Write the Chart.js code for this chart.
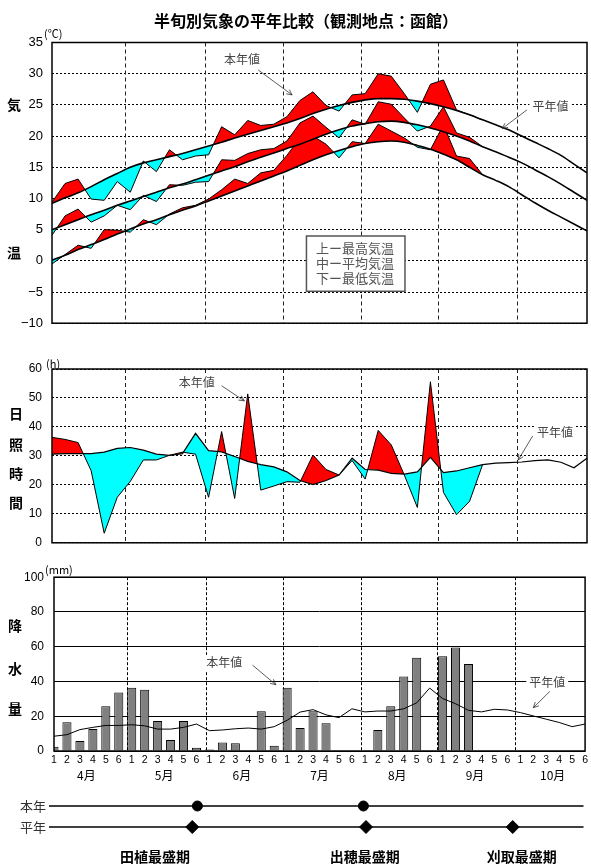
<!DOCTYPE html>
<html lang="ja">
<head>
<meta charset="utf-8">
<title>半旬別気象の平年比較（函館）</title>
<script src="https://cdn.jsdelivr.net/npm/chart.js@4.4.1/dist/chart.umd.min.js"></script>
<style>
  html, body { margin: 0; padding: 0; background: #fff; }
  #page { position: relative; width: 591px; height: 864px; overflow: hidden; background: #fff;
          font-family: "Noto Sans CJK JP", "Noto Sans", sans-serif; color: #000; }
  #page canvas { position: absolute; left: 0; }
  .lbl { position: absolute; transform: translate(-50%, -50%); white-space: nowrap; line-height: 1; }
  .ax { font-size: 14px; font-weight: bold; }
  .unit { font-size: 11px; transform: translate(0, -50%); }
</style>
</head>
<body>
<div id="page">
  <canvas id="temp"  width="591" height="340" style="top:0"></canvas>
  <canvas id="sun"   width="591" height="220" style="top:340px"></canvas>
  <canvas id="rain"  width="591" height="224" style="top:560px"></canvas>
  <canvas id="stage" width="591" height="80"  style="top:784px"></canvas>

  <div class="lbl" style="left:306px;top:20px;font-size:16px;font-weight:bold;">半旬別気象の平年比較（観測地点：函館）</div>

  <div class="lbl unit" style="left:44px;top:33px;">(℃)</div>
  <div class="lbl ax" style="left:14px;top:104px;">気</div>
  <div class="lbl ax" style="left:14px;top:252px;">温</div>

  <div class="lbl unit" style="left:46px;top:363px;">(h)</div>
  <div class="lbl ax" style="left:16px;top:413px;">日</div>
  <div class="lbl ax" style="left:16px;top:444px;">照</div>
  <div class="lbl ax" style="left:16px;top:473px;">時</div>
  <div class="lbl ax" style="left:16px;top:502px;">間</div>

  <div class="lbl unit" style="left:45px;top:569px;">(mm)</div>
  <div class="lbl ax" style="left:15px;top:625px;">降</div>
  <div class="lbl ax" style="left:15px;top:668px;">水</div>
  <div class="lbl ax" style="left:15px;top:708px;">量</div>
</div>

<script>
// ---- categories: 半旬 (1-6) for April through October ----
const months = ['4月', '5月', '6月', '7月', '8月', '9月', '10月'];
const pentadNames = ['1', '2', '3', '4', '5', '6'];
const pentadLabels = months.flatMap(() => pentadNames);

// ---- temperature (℃) ----
const tMaxNormal  = [9.2,10.1,10.9,11.9,13.0,14.0,15.0,15.7,16.2,16.7,17.2,17.8,18.4,19.0,19.7,20.3,20.9,21.5,22.1,22.8,23.6,
                     24.3,24.9,25.4,25.8,26.0,26.0,25.9,25.6,25.2,24.7,24.1,23.4,22.6,21.8,21.0,20.0,19.0,18.0,16.9,15.5,14.1];
const tMaxNow     = [9.4,12.4,13.1,9.9,9.7,12.7,11.0,16.0,14.3,17.8,16.2,16.8,17.0,21.5,20.2,22.5,21.7,21.9,23.1,25.7,27.1,
                     24.9,24.0,26.6,26.8,30.0,29.6,26.8,23.8,28.3,29.0,24.2,23.4,22.6];
const tMeanNormal = [5.0,5.8,6.6,7.4,8.1,8.9,9.6,10.3,11.0,11.7,12.3,13.0,13.7,14.4,15.1,15.9,16.6,17.3,18.0,18.7,19.5,
                     20.3,21.0,21.6,22.0,22.3,22.4,22.2,21.8,21.3,20.7,20.0,19.2,18.3,17.5,16.6,15.7,14.6,13.5,12.3,11.0,9.7];
const tMeanNow    = [4.1,7.2,8.3,6.2,7.2,8.9,8.2,10.5,9.5,12.2,12.1,12.6,12.7,16.2,16.1,17.2,17.8,18.0,19.2,22.1,23.2,
                     21.4,19.7,22.6,21.9,25.5,25.1,22.9,20.8,21.6,24.7,20.5,19.8,18.3];
const tMinNormal  = [0.1,0.9,1.8,2.6,3.4,4.3,5.1,5.9,6.6,7.4,8.1,8.8,9.6,10.4,11.2,12.0,12.8,13.6,14.4,15.3,16.2,
                     17.0,17.7,18.3,18.8,19.1,19.2,19.0,18.5,17.9,17.1,16.2,15.0,13.8,12.9,11.9,10.6,9.3,8.1,7.0,5.9,4.8];
const tMinNow     = [-0.5,1.0,2.5,2.0,5.0,4.9,4.6,6.6,5.8,7.5,8.5,8.9,9.9,11.4,13.1,12.4,14.1,14.5,16.9,19.7,20.0,
                     18.7,16.5,19.1,18.8,21.9,20.8,19.7,18.2,17.8,21.8,16.8,16.4,13.8];

// ---- sunshine duration (h) ----
const sunNormal = [30.6,30.8,30.8,30.8,31.3,32.6,32.9,32.0,30.6,30.2,30.8,37.8,31.8,31.4,29.8,28.1,27.0,26.2,24.5,21.5,20.1,
                   21.5,23.4,29.2,25.3,25.1,24.0,23.7,24.5,29.5,24.2,24.8,25.9,27.0,27.5,27.7,27.9,28.4,28.6,27.8,25.9,29.2];
const sunNow    = [36.4,35.7,34.6,24.9,3.3,15.7,21.2,28.6,28.6,30.2,31.3,30.6,15.7,38.4,15.3,51.4,18.2,19.6,21.1,20.9,30.3,
                   25.3,23.4,28.4,22.0,38.8,33.8,23.4,12.2,55.6,17.4,9.7,14.3,27.0];

// ---- precipitation (mm) ----
const rainNormal = [8.5,9.4,12.3,13.6,14.7,14.7,15.1,14.5,12.6,12.6,13.6,15.5,11.7,12.1,12.8,13.2,12.6,14.0,17.7,22.4,23.8,
                    20.8,19.2,24.3,22.5,23.0,23.0,24.3,27.7,36.2,30.2,27.2,23.4,22.5,24.0,23.6,22.1,20.2,18.3,16.4,14.0,15.5];
const rainNow    = [2.5,16.6,5.8,12.6,25.7,33.6,36.4,35.3,17.2,6.4,17.2,1.9,0.8,4.9,4.5,0,22.8,3.0,36.4,13.2,22.8,
                    16.0,0,0,0,12.1,25.7,42.8,53.6,0,54.5,59.6,50.0,0];

// ---- rice crop stages (position in 半旬 index) ----
const stageNames    = ['田植最盛期', '出穂最盛期', '刈取最盛期'];
const stageLabelAt  = [8.0, 24.3, 36.5];
const stageNowAt    = [11.3, 24.2];
const stageNormalAt = [10.9, 24.4, 35.8];

// month boundary positions (半旬 index units)
const monthEdges = [5.6, 11.7, 17.7, 23.7, 29.6, 35.6];

const RED = '#ff0000', CYAN = '#00ffff';
const NUM_FONT = "'Liberation Sans', Arial, sans-serif";
const JP_FONT = "'Noto Sans CJK JP', sans-serif";
Chart.defaults.font.family = NUM_FONT;
Chart.defaults.color = '#000';

// month dividers behind the data, plot frame on top of it
const framePlugin = {
  id: 'frame',
  beforeDatasetsDraw(chart, _args, o) {
    const { ctx, chartArea: a } = chart;
    const x = chart.scales.x;
    ctx.save();
    ctx.strokeStyle = o.dashColor || '#222';
    ctx.lineWidth = 1;
    ctx.setLineDash(o.dash || [4, 3]);
    (o.edges || []).forEach(v => {
      const px = Math.round(x.getPixelForValue(v)) + 0.5;
      ctx.beginPath(); ctx.moveTo(px, a.top); ctx.lineTo(px, a.bottom); ctx.stroke();
    });
    ctx.restore();
  },
  afterDatasetsDraw(chart, _args, o) {
    if (!o.border) return;
    const { ctx, chartArea: a } = chart;
    ctx.save();
    ctx.strokeStyle = '#000';
    ctx.lineWidth = 1.5;
    ctx.strokeRect(a.left, a.top, a.right - a.left, a.bottom - a.top);
    ctx.restore();
  }
};

function arrow(ctx, x1, y1, x2, y2) {
  ctx.beginPath(); ctx.moveTo(x1, y1); ctx.lineTo(x2, y2); ctx.stroke();
  const ang = Math.atan2(y2 - y1, x2 - x1), L = 6;
  ctx.beginPath();
  ctx.moveTo(x2 - L * Math.cos(ang - 0.45), y2 - L * Math.sin(ang - 0.45));
  ctx.lineTo(x2, y2);
  ctx.lineTo(x2 - L * Math.cos(ang + 0.45), y2 - L * Math.sin(ang + 0.45));
  ctx.stroke();
}

// callout labels, legend box and extra axis texts
const notesPlugin = {
  id: 'notes',
  afterDraw(chart, _args, o) {
    const { ctx, chartArea: a } = chart;
    const x = chart.scales.x, y = chart.scales.y;
    ctx.save();
    (o.items || []).forEach(n => {
      ctx.font = `12px ${JP_FONT}`;
      const px = x.getPixelForValue(n.at[0]), py = y.getPixelForValue(n.at[1]);
      const w = ctx.measureText(n.text).width;
      ctx.fillStyle = '#fff';
      ctx.fillRect(px - w / 2 - 3, py - 8, w + 6, 16);
      ctx.fillStyle = '#444';
      ctx.textAlign = 'center'; ctx.textBaseline = 'middle';
      ctx.fillText(n.text, px, py);
      ctx.strokeStyle = '#333'; ctx.lineWidth = 0.8;
      arrow(ctx, x.getPixelForValue(n.from[0]), y.getPixelForValue(n.from[1]),
                 x.getPixelForValue(n.to[0]), y.getPixelForValue(n.to[1]));
    });
    if (o.box) {
      const b = o.box;
      const x0 = x.getPixelForValue(b.from[0]), y0 = y.getPixelForValue(b.from[1]);
      const x1 = x.getPixelForValue(b.to[0]),   y1 = y.getPixelForValue(b.to[1]);
      ctx.fillStyle = '#fff'; ctx.fillRect(x0, y0, x1 - x0, y1 - y0);
      ctx.strokeStyle = '#555'; ctx.lineWidth = 1.5; ctx.strokeRect(x0, y0, x1 - x0, y1 - y0);
      ctx.font = `13px ${JP_FONT}`; ctx.fillStyle = '#555';
      ctx.textAlign = 'left'; ctx.textBaseline = 'middle';
      b.lines.forEach((t, k) => ctx.fillText(t, x.getPixelForValue(b.textAt), y.getPixelForValue(b.lineVals[k])));
    }
    if (o.months) {
      ctx.font = `12px ${JP_FONT}`; ctx.fillStyle = '#000';
      ctx.textAlign = 'center'; ctx.textBaseline = 'middle';
      o.months.forEach((m, k) => ctx.fillText(m, x.getPixelForValue(k * 6 + 2.5), a.bottom + 24));
    }
    if (o.stages) {
      ctx.font = `bold 14px ${JP_FONT}`; ctx.fillStyle = '#000';
      ctx.textAlign = 'center'; ctx.textBaseline = 'middle';
      o.stages.names.forEach((t, k) => ctx.fillText(t, x.getPixelForValue(o.stages.at[k]), a.bottom + 30));
    }
    ctx.restore();
  }
};

const minusFix = v => String(v).replace('-', '\u2212');

function yAxis(min, max, step, width, fontSize, pad, dash) {
  return {
    min, max,
    ticks: { stepSize: step, font: { size: fontSize }, padding: pad, color: '#000', callback: minusFix },
    grid: { color: '#000', lineWidth: 1, drawTicks: false },
    border: { display: false, dash: dash },
    afterFit: s => { s.width = width; }
  };
}

const normalLine = (label, data, smooth, width) => ({
  label, data, borderColor: '#000', borderWidth: width, pointRadius: 0, fill: false, order: 0,
  cubicInterpolationMode: smooth ? 'monotone' : 'default', tension: 0
});
const currentLine = (label, data, target) => ({
  label, data, borderColor: '#000', borderWidth: 1, pointRadius: 0, order: 1, tension: 0,
  fill: { target, above: RED, below: CYAN }
});

const common = {
  responsive: false, animation: false, devicePixelRatio: 1,
  events: []
};

// ---- 気温 ----
new Chart(document.getElementById('temp'), {
  type: 'line',
  data: {
    labels: pentadLabels,
    datasets: [
      normalLine('最高気温 平年値', tMaxNormal, true, 1.6),
      currentLine('最高気温 本年値', tMaxNow, 0),
      normalLine('平均気温 平年値', tMeanNormal, true, 1.6),
      currentLine('平均気温 本年値', tMeanNow, 2),
      normalLine('最低気温 平年値', tMinNormal, true, 1.6),
      currentLine('最低気温 本年値', tMinNow, 4)
    ]
  },
  options: {
    ...common,
    layout: { padding: { left: 0, right: 4, top: 42.5, bottom: 10 } },
    plugins: {
      legend: { display: false }, tooltip: { enabled: false },
      frame: { edges: monthEdges, border: true },
      notes: {
        items: [
          { text: '本年値', at: [14.56, 32.3], from: [15.8, 30.6], to: [18.4, 26.6] },
          { text: '平年値', at: [38.2, 24.75], from: [36.4, 24.2], to: [34.5, 21.2] }
        ],
        box: { from: [19.5, 3.98], to: [27.05, -4.88], textAt: 20.23,
               lines: ['上ー最高気温', '中ー平均気温', '下ー最低気温'], lineVals: [2.1, -0.34, -2.69] }
      }
    },
    scales: {
      x: { display: false, offset: false },
      y: yAxis(-10, 35, 5, 52, 13, 9, [2, 2])
    }
  },
  plugins: [framePlugin, notesPlugin]
});

// ---- 日照時間 ----
new Chart(document.getElementById('sun'), {
  type: 'line',
  data: {
    labels: pentadLabels,
    datasets: [
      normalLine('日照時間 平年値', sunNormal, false, 1.2),
      currentLine('日照時間 本年値', sunNow, 0)
    ]
  },
  options: {
    ...common,
    layout: { padding: { left: 0, right: 4, top: 29, bottom: 9 } },
    plugins: {
      legend: { display: false }, tooltip: { enabled: false },
      frame: { edges: monthEdges, border: true },
      notes: {
        items: [
          { text: '本年値', at: [11.1, 55.4], from: [13.0, 54.2], to: [14.74, 49.0] },
          { text: '平年値', at: [38.54, 38.2], from: [36.84, 36.9], to: [35.73, 28.6] }
        ]
      }
    },
    scales: {
      x: { display: false, offset: false },
      y: yAxis(0, 60, 10, 52, 12, 10, [2, 2])
    }
  },
  plugins: [framePlugin, notesPlugin]
});

// ---- 降水量 ----
new Chart(document.getElementById('rain'), {
  type: 'bar',
  data: {
    labels: pentadLabels,
    datasets: [
      { type: 'line', label: '降水量 平年値', data: rainNormal, borderColor: '#000', borderWidth: 1,
        pointRadius: 0, tension: 0, fill: false, order: 0 },
      { type: 'bar', label: '降水量 本年値', data: rainNow, backgroundColor: '#808080',
        borderColor: '#000', borderWidth: 1, barPercentage: 0.7, categoryPercentage: 1, order: 1, clip: 0 }
    ]
  },
  options: {
    ...common,
    layout: { padding: { left: 0, right: 4, top: 14, bottom: 0 } },
    plugins: {
      legend: { display: false }, tooltip: { enabled: false },
      frame: { edges: monthEdges, border: true, dash: [3, 2], dashColor: '#000' },
      notes: {
        items: [
          { text: '本年値', at: [13.15, 50.7], from: [15.33, 49.4], to: [17.13, 38.1] },
          { text: '平年値', at: [38.08, 39.4], from: [38.28, 34.3], to: [37.0, 24.9] }
        ],
        months
      }
    },
    scales: {
      x: {
        offset: false,
        grid: { display: false, drawTicks: false },
        border: { display: false },
        ticks: { autoSkip: false, maxRotation: 0, font: { size: 10.5 }, padding: 3, color: '#000' },
        afterFit: s => { s.height = 33; }
      },
      y: yAxis(0, 100, 20, 54, 12, 10, [])
    }
  },
  plugins: [framePlugin, notesPlugin]
});

// ---- 作期（本年・平年） ----
const rowLine = row => [{ x: -0.23, y: row }, { x: 41.3, y: row }];
new Chart(document.getElementById('stage'), {
  type: 'scatter',
  data: {
    datasets: [
      { label: '本年', data: rowLine(1), showLine: true, borderColor: '#000', borderWidth: 1.3, pointRadius: 0, clip: false },
      { label: '平年', data: rowLine(0), showLine: true, borderColor: '#000', borderWidth: 1.3, pointRadius: 0, clip: false },
      { label: '本年 最盛期', data: stageNowAt.map(v => ({ x: v, y: 1 })), pointStyle: 'circle',
        pointRadius: 5, backgroundColor: '#000', borderColor: '#000', clip: false },
      { label: '平年 最盛期', data: stageNormalAt.map(v => ({ x: v, y: 0 })), pointStyle: 'rectRot',
        pointRadius: 6.5, backgroundColor: '#000', borderColor: '#000', clip: false }
    ]
  },
  options: {
    ...common,
    layout: { padding: { left: 0, right: 0, top: 22, bottom: 37 } },
    plugins: {
      legend: { display: false }, tooltip: { enabled: false },
      notes: { stages: { names: stageNames, at: stageLabelAt } }
    },
    scales: {
      x: { type: 'linear', display: false, min: -0.23, max: 41.3 },
      y: {
        type: 'linear', min: 0, max: 1,
        ticks: { stepSize: 1, padding: 3, color: '#333', font: { family: JP_FONT, size: 13 },
                 callback: v => (v === 1 ? '本年' : v === 0 ? '平年' : '') },
        grid: { display: false, drawTicks: false },
        border: { display: false },
        afterFit: s => { s.width = 49; }
      }
    }
  },
  plugins: [notesPlugin]
});
</script>
</body>
</html>
